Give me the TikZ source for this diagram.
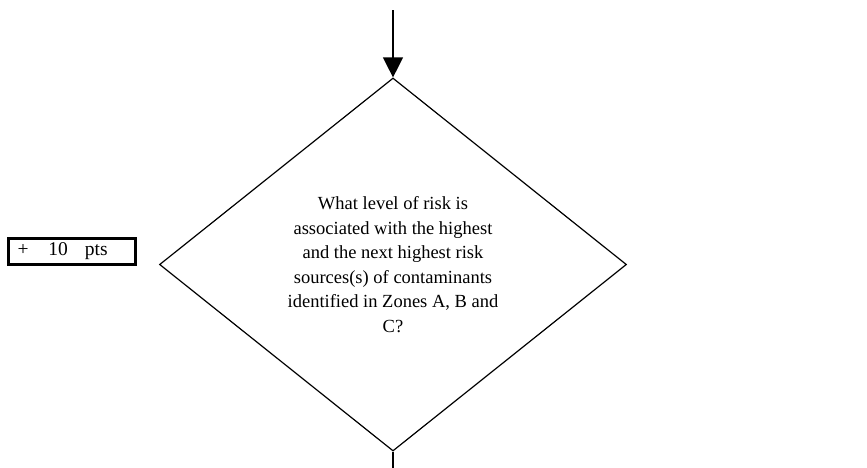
\documentclass[tikz,border=0pt]{standalone}
\usepackage{fontspec}
\setmainfont{Liberation Serif}
\usetikzlibrary{shapes.geometric,arrows.meta}
\begin{document}
\begin{tikzpicture}[x=1pt,y=-1pt,
  decision/.style={diamond,draw,line width=1.2pt,inner sep=0pt,
    minimum width=467pt,minimum height=373pt,align=center,
    font=\fontsize{18.5}{24.5}\selectfont},
  ptsbox/.style={draw,line width=2.6pt,minimum width=127pt,minimum height=26.5pt,
    inner sep=0pt,font=\fontsize{19.5}{21}\selectfont},
  flow/.style={line width=1.3pt}]
\useasboundingbox (0,0) rectangle (867,467);
\node[decision] (q) at (393,264.5) {What level of risk is\\associated with the highest\\and the next highest risk\\sources(s) of contaminants\\identified in Zones A, B and\\C?};
\coordinate (in) at (q.north |- 0,10);
\coordinate (out) at (q.south |- 0,470);
\node[ptsbox] (pts) at (72,251.5) {\makebox[124pt][l]{\hspace{7.5pt}+\hspace{20pt}10\hspace{17pt}pts}};
\draw[flow,-{Triangle[length=20pt,width=20pt]}] (in) -- (q.north);
\draw[flow] (q.south) -- (out);
\end{tikzpicture}
\end{document}
